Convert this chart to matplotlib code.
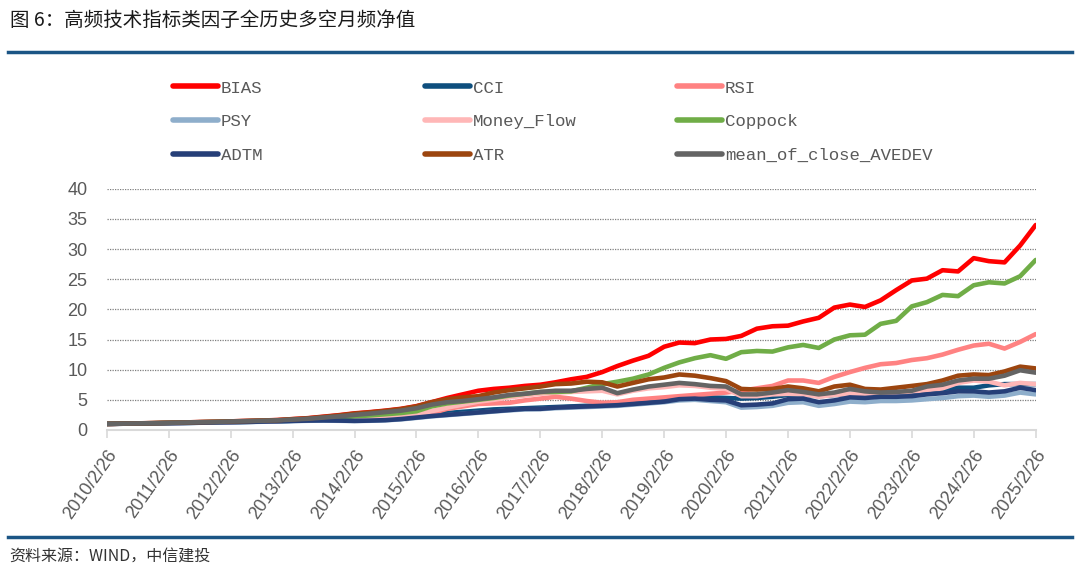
import numpy as np
import pandas as pd
import matplotlib
matplotlib.use("Agg")
import matplotlib.pyplot as plt

plt.rcParams['font.family'] = ['Noto Sans CJK SC', 'DejaVu Sans']

# quarterly net values, 2010/2/26 .. 2025/2/26
dates = pd.date_range("2010-02-01", "2025-02-01", freq="3MS") + pd.Timedelta(days=25)
tick_dates = pd.date_range("2010-02-01", "2025-02-01", freq="12MS") + pd.Timedelta(days=25)

bias = [1.00, 1.04, 1.09, 1.13, 1.19, 1.24, 1.30, 1.35, 1.42, 1.49, 1.56, 1.64,
        1.80, 1.95, 2.20, 2.45, 2.75, 2.95, 3.20, 3.50, 3.95, 4.60, 5.30, 5.90,
        6.50, 6.80, 7.00, 7.30, 7.50, 7.90, 8.40, 8.80, 9.60, 10.6, 11.5, 12.3,
        13.8, 14.5, 14.4, 15.0, 15.1, 15.6, 16.8, 17.2, 17.3, 18.0, 18.6, 20.3,
        20.8, 20.4, 21.5, 23.2, 24.8, 25.1, 26.5, 26.3, 28.5, 28.0, 27.8, 30.6, 34.0]
cci = [1.00, 1.03, 1.06, 1.09, 1.12, 1.16, 1.20, 1.24, 1.28, 1.33, 1.38, 1.43,
       1.52, 1.58, 1.62, 1.60, 1.58, 1.62, 1.70, 1.90, 2.20, 2.50, 2.80, 3.00,
       3.20, 3.40, 3.50, 3.60, 3.70, 3.80, 3.90, 4.00, 4.10, 4.20, 4.40, 4.70,
       5.0, 5.2, 5.3, 5.4, 5.3, 5.2, 5.3, 5.5, 5.8, 5.9, 5.6, 5.8,
       6.0, 6.0, 6.1, 6.2, 6.3, 6.5, 6.8, 7.0, 7.0, 7.4, 7.6, 7.6, 7.6]
rsi = [1.00, 1.03, 1.07, 1.10, 1.15, 1.19, 1.24, 1.28, 1.33, 1.38, 1.44, 1.50,
       1.58, 1.65, 1.72, 1.80, 1.90, 1.95, 2.00, 2.00, 2.10, 2.80, 3.50, 3.90,
       4.30, 4.40, 4.50, 4.90, 5.20, 5.50, 5.20, 4.80, 4.50, 4.60, 5.00, 5.20,
       5.4, 5.6, 5.8, 6.0, 6.2, 6.5, 6.9, 7.3, 8.2, 8.2, 7.8, 8.8,
       9.6, 10.3, 10.9, 11.1, 11.6, 11.9, 12.5, 13.3, 14.0, 14.3, 13.5, 14.6, 15.9]
psy = [1.00, 1.03, 1.06, 1.09, 1.12, 1.15, 1.19, 1.23, 1.27, 1.31, 1.36, 1.41,
       1.47, 1.52, 1.55, 1.52, 1.48, 1.52, 1.60, 1.75, 2.00, 2.25, 2.45, 2.65,
       2.85, 3.05, 3.25, 3.40, 3.45, 3.60, 3.70, 3.80, 3.90, 4.00, 4.20, 4.40,
       4.6, 4.9, 5.0, 4.8, 4.6, 3.7, 3.8, 4.0, 4.5, 4.6, 4.0, 4.3,
       4.7, 4.6, 4.8, 4.8, 4.9, 5.1, 5.3, 5.6, 5.7, 5.5, 5.7, 6.2, 5.9]
money_flow = [1.00, 1.03, 1.07, 1.10, 1.15, 1.19, 1.24, 1.28, 1.33, 1.38, 1.44, 1.50,
              1.60, 1.68, 1.78, 1.88, 2.00, 2.10, 2.20, 2.30, 2.50, 3.10, 3.70, 4.20,
              4.70, 5.00, 5.40, 5.70, 6.00, 6.20, 6.30, 6.40, 6.50, 5.90, 6.50, 6.90,
              7.1, 7.4, 7.3, 7.0, 6.8, 5.6, 5.6, 5.9, 6.0, 5.9, 5.5, 5.8,
              6.0, 6.0, 6.1, 6.2, 6.4, 6.6, 6.9, 7.8, 8.2, 8.0, 7.4, 7.8, 7.6]
coppock = [1.00, 1.04, 1.08, 1.12, 1.17, 1.22, 1.27, 1.32, 1.38, 1.44, 1.50, 1.57,
           1.68, 1.78, 1.92, 2.05, 2.25, 2.40, 2.60, 2.80, 3.10, 3.90, 4.40, 4.70,
           5.00, 5.30, 5.70, 6.00, 6.30, 6.30, 6.40, 7.00, 7.60, 8.00, 8.50, 9.20,
           10.3, 11.2, 11.9, 12.4, 11.8, 12.9, 13.1, 13.0, 13.7, 14.1, 13.6, 15.0,
           15.7, 15.8, 17.6, 18.1, 20.5, 21.2, 22.4, 22.2, 24.0, 24.5, 24.3, 25.5, 28.2]
adtm = [1.00, 1.03, 1.06, 1.09, 1.12, 1.16, 1.20, 1.24, 1.28, 1.33, 1.38, 1.43,
        1.50, 1.55, 1.58, 1.55, 1.50, 1.55, 1.62, 1.80, 2.05, 2.30, 2.50, 2.70,
        2.90, 3.10, 3.30, 3.50, 3.50, 3.70, 3.80, 3.90, 4.00, 4.10, 4.30, 4.50,
        4.7, 5.1, 5.2, 5.0, 4.9, 4.1, 4.2, 4.4, 5.1, 5.2, 4.6, 4.9,
        5.4, 5.3, 5.5, 5.5, 5.6, 5.9, 6.1, 6.4, 6.4, 6.2, 6.4, 7.0, 6.6]
atr = [1.00, 1.04, 1.09, 1.13, 1.19, 1.24, 1.30, 1.35, 1.42, 1.48, 1.55, 1.62,
       1.78, 1.92, 2.15, 2.40, 2.70, 2.90, 3.15, 3.45, 3.90, 4.60, 5.10, 5.40,
       5.60, 6.20, 6.60, 6.90, 7.20, 7.60, 7.70, 8.00, 7.90, 7.20, 7.80, 8.40,
       8.7, 9.2, 9.0, 8.6, 8.1, 6.8, 6.7, 6.8, 7.2, 6.9, 6.4, 7.2,
       7.5, 6.8, 6.7, 7.0, 7.3, 7.6, 8.2, 9.0, 9.2, 9.1, 9.7, 10.5, 10.2]
avedev = [1.00, 1.04, 1.08, 1.12, 1.18, 1.23, 1.28, 1.33, 1.40, 1.46, 1.52, 1.59,
          1.72, 1.85, 2.05, 2.25, 2.50, 2.70, 2.95, 3.20, 3.60, 4.20, 4.60, 4.80,
          5.10, 5.40, 5.80, 6.00, 6.30, 6.50, 6.50, 6.80, 7.00, 6.10, 6.70, 7.20,
          7.5, 7.8, 7.6, 7.3, 7.2, 5.9, 5.9, 6.2, 6.6, 6.3, 5.9, 6.2,
          6.8, 6.4, 6.2, 6.3, 6.5, 7.2, 7.5, 8.2, 8.5, 8.5, 9.0, 9.9, 9.5]

names = ["BIAS", "CCI", "RSI", "PSY", "Money_Flow", "Coppock",
         "ADTM", "ATR", "mean_of_close_AVEDEV"]
series = [bias, cci, rsi, psy, money_flow, coppock, adtm, atr, avedev]
colors = ["#FF0000", "#0E4F7E", "#FF8282", "#8EAECB", "#FFB7B7", "#70AD47",
          "#263F78", "#9C450F", "#646464"]

fig = plt.figure(figsize=(10.8, 5.74), dpi=100)
ax = fig.add_axes([0.099, 0.251, 0.860, 0.420])

lines = []
for name, vals, c in zip(names, series, colors):
    ln, = ax.plot(dates, vals, color=c, lw=3.3, label=name, solid_capstyle="round")
    lines.append(ln)

ax.set_xlim(dates[0], dates[-1])
ax.set_ylim(0, 40)
ax.set_yticks(range(0, 41, 5))
ax.set_xticks(tick_dates)
ax.set_xticklabels([f"{d.year}/{d.month}/{d.day}" for d in tick_dates],
                   rotation=55, ha="right", rotation_mode="anchor",
                   family="Liberation Sans", fontsize=13, color="#595959")
for lab in ax.get_yticklabels():
    lab.set_family("Liberation Sans")
ax.tick_params(axis="y", length=0, pad=14, labelsize=13, labelcolor="#595959")
ax.tick_params(axis="x", length=6, width=1.2, color="#D9D9D9", pad=6)
ax.grid(axis="y", ls=(0, (1, 1)), color="#7F7F7F", lw=0.9)
ax.set_axisbelow(True)
for s in ["top", "right", "left"]:
    ax.spines[s].set_visible(False)
ax.spines["bottom"].set_color("#D9D9D9")
ax.spines["bottom"].set_linewidth(1.5)

# legend: three columns laid out like the report
for col in range(3):
    hs = [lines[col + 3 * r] for r in range(3)]
    leg = fig.legend(hs, [h.get_label() for h in hs], loc="upper left",
                     bbox_to_anchor=(0.160 + col * 0.2335, 0.860), frameon=False,
                     prop={"family": "Liberation Mono", "size": 12.5},
                     handlelength=2.6, handletextpad=0.15, labelspacing=1.06,
                     borderpad=0, borderaxespad=0)
    for t in leg.get_texts():
        t.set_color("#595959")
    for h in leg.legend_handles:
        h.set_linewidth(4)

fig.text(0.009, 0.965, "图 6：高频技术指标类因子全历史多空月频净值",
         fontsize=14, color="#1A1A1A", va="center", ha="left")
fig.add_artist(plt.Line2D([0.007, 0.993], [0.909, 0.909], color="#1B5585", lw=2.5))
fig.add_artist(plt.Line2D([0.007, 0.993], [0.064, 0.064], color="#1B5585", lw=2.5))
fig.text(0.009, 0.030, "资料来源：WIND，中信建投", fontsize=11.5, style="italic",
         color="#333333", va="center", ha="left")

fig.savefig("out.png", dpi=100)
